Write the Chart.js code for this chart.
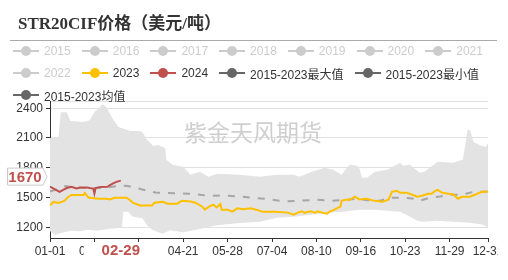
<!DOCTYPE html>
<html lang="zh">
<head>
<meta charset="UTF-8">
<title>STR20CIF价格</title>
<script src="https://cdn.jsdelivr.net/npm/chart.js@4.4.1/dist/chart.umd.min.js"></script>
<style>
  body { margin: 0; background: #fff; }
  .wrap { position: relative; width: 508px; height: 280px; overflow: hidden;
          font-family: "Liberation Sans", "Noto Sans CJK SC", sans-serif; }
  #c { position: absolute; left: 0; top: 0; }
  .title { position: absolute; left: 18px; top: 9px; color: #333; white-space: nowrap;
           font: bold 17px "Liberation Serif", "Noto Sans CJK SC", serif; }
  .rule { position: absolute; left: 10px; top: 40px; width: 487px; border-top: 1px solid #aaa; }
  .legend { position: absolute; left: 13px; top: 40px; width: 490px; }
  .row { display: flex; height: 22px; align-items: center; }
  .item { display: flex; align-items: center; margin-right: 11px; font-size: 12px; color: #333; white-space: nowrap; }
  .item.off { color: #ccc; }
  .icon { position: relative; width: 26px; height: 12px; margin-right: 5px; }
  .icon::before { content: ""; position: absolute; left: 0; right: 0; top: 5px; height: 2px; background: var(--c); }
  .icon::after { content: ""; position: absolute; left: 8px; top: 1px; width: 10px; height: 10px; border-radius: 50%; background: var(--c); }
</style>
</head>
<body>
<div class="wrap">
  <canvas id="c" width="498" height="280"></canvas>
  <div class="title">STR20CIF价格（美元/吨）</div>
  <div class="rule"></div>
  <div class="legend" id="legend"></div>
</div>
<script>
// x axis: day of year (2024), ticks every 37 days
const tickDays = [0, 37, 74, 111, 148, 185, 222, 259, 296, 333, 365];
const tickLabels = ['01-01', '02-07', '03-15', '04-21', '05-28', '07-04', '08-10', '09-16', '10-23', '11-29', '12-31'];
const yTicks = [1200, 1500, 1800, 2100, 2400];

// legend entries (2015-2022 are switched off in the original)
const legendNames = ['2015', '2016', '2017', '2018', '2019', '2020', '2021', '2022', '2023', '2024',
                     '2015-2023最大值', '2015-2023最小值', '2015-2023均值'];
const legendOn = [false, false, false, false, false, false, false, false, true, true, true, true, true];
const legendRows = [7, 5, 1];

// 2015-2023 max / min band
const maxDays = [0, 7, 9, 14, 17, 28, 33, 37, 42, 44, 47, 52, 57, 62, 67, 75, 77, 81, 86, 90,
                 96, 97, 102, 111, 117, 125, 132, 139, 158, 175, 189, 203, 208, 218, 229, 236, 243, 248, 250, 256,
                 258, 260, 264, 271, 281, 292, 294, 300, 308, 312, 323, 336, 344, 347, 348, 350, 353, 358, 363, 365];
const maxVals = [2100, 2110, 2360, 2360, 2270, 2260, 2280, 2360, 2420, 2440, 2410, 2300, 2210, 2190, 2170, 2170, 2160, 2080, 2020, 2030,
                 2000, 1880, 1830, 1810, 1730, 1760, 1710, 1740, 1730, 1710, 1730, 1730, 1710, 1760, 1800, 1780, 1730, 1810, 1830, 1820,
                 1790, 1700, 1700, 1760, 1780, 1850, 1820, 1830, 1750, 1760, 1860, 1850, 1880, 2100, 2180, 2180, 2060, 2030, 2010, 2050];
const minDays = [0, 4, 10, 17, 25, 31, 39, 50, 60, 61, 65, 69, 77, 81, 86, 94, 100, 111, 122, 139,
                 156, 175, 189, 203, 217, 231, 244, 258, 271, 281, 292, 300, 306, 311, 322, 336, 350, 361, 365];
const minVals = [1160, 1125, 1145, 1165, 1160, 1175, 1165, 1185, 1195, 1355, 1355, 1305, 1290, 1220, 1170, 1135, 1170, 1150, 1175, 1220,
                 1240, 1255, 1295, 1305, 1325, 1345, 1355, 1375, 1375, 1365, 1355, 1305, 1265, 1255, 1265, 1255, 1245, 1225, 1195];

// 2015-2023 average
const avgDays = [0, 5, 13, 20, 30, 40, 50, 60, 65, 72, 80, 88, 95, 110, 120, 133, 145, 158, 170, 180,
                 195, 208, 222, 235, 247, 257, 267, 275, 283, 295, 302, 308, 317, 325, 332, 343, 353, 360, 365];
const avgVals = [1560, 1580, 1615, 1600, 1595, 1595, 1605, 1620, 1615, 1595, 1570, 1550, 1545, 1540, 1535, 1515, 1520, 1510, 1495, 1487,
                 1460, 1467, 1477, 1467, 1477, 1487, 1467, 1467, 1497, 1497, 1490, 1467, 1500, 1510, 1527, 1527, 1557, 1557, 1560];

// 2023
const days2023 = [0, 3, 7, 12, 15, 18, 28, 29, 32, 40, 47, 50, 54, 64, 67, 69, 75, 85, 87, 94,
                  98, 106, 110, 117, 121, 127, 129, 133, 136, 139, 142, 143, 148, 152, 156, 161, 167, 172, 177, 187,
                  198, 203, 207, 210, 212, 217, 221, 223, 227, 231, 233, 237, 242, 243, 246, 250, 254, 258, 264, 269,
                  277, 282, 285, 289, 292, 297, 302, 306, 310, 315, 318, 321, 323, 327, 332, 336, 340, 343, 350, 354, 360, 365];
const vals2023 = [1420, 1455, 1445, 1465, 1505, 1525, 1525, 1545, 1500, 1487, 1487, 1480, 1497, 1497, 1470, 1447, 1420, 1420, 1447, 1457,
                  1437, 1437, 1467, 1460, 1447, 1407, 1377, 1410, 1427, 1400, 1435, 1377, 1377, 1357, 1390, 1380, 1390, 1377, 1357, 1355,
                  1347, 1327, 1350, 1360, 1345, 1360, 1347, 1360, 1345, 1337, 1357, 1377, 1407, 1467, 1477, 1477, 1507, 1480, 1487, 1470,
                  1457, 1477, 1557, 1567, 1547, 1547, 1527, 1507, 1517, 1537, 1537, 1567, 1577, 1547, 1537, 1530, 1487, 1507, 1507, 1527, 1557, 1557];

// 2024 (up to 02-29)
const days2024 = [0, 3, 8, 11, 14, 18, 22, 25, 31, 33, 36, 37, 38, 42, 48, 50, 53, 56, 59];
const vals2024 = [1610, 1590, 1557, 1577, 1595, 1607, 1590, 1600, 1600, 1595, 1590, 1540, 1595, 1605, 1607, 1625, 1645, 1660, 1670];

// highlighted pointer
const markDay = 59;
const markLabel = '02-29';
const markValue = 1670;

const RED = '#c0504d';
const YELLOW = '#ffc000';
const legendColors = ['#ccc', '#ccc', '#ccc', '#ccc', '#ccc', '#ccc', '#ccc', '#ccc', YELLOW, RED, '#666', '#666', '#666'];

function pts(xs, ys) {
    return xs.map((x, i) => ({ x: x, y: ys[i] }));
}

// html legend
const legendEl = document.getElementById('legend');
let k = 0;
legendRows.forEach(n => {
    const row = document.createElement('div');
    row.className = 'row';
    for (let j = 0; j < n; j++, k++) {
        const item = document.createElement('div');
        item.className = 'item' + (legendOn[k] ? '' : ' off');
        const icon = document.createElement('span');
        icon.className = 'icon';
        icon.style.setProperty('--c', legendColors[k]);
        item.appendChild(icon);
        item.appendChild(document.createTextNode(legendNames[k]));
        row.appendChild(item);
    }
    legendEl.appendChild(row);
});

const FONT = '"Liberation Sans", "Noto Sans CJK SC", sans-serif';
Chart.defaults.font.family = FONT;

const overlay = {
    id: 'overlay',
    beforeDatasetsDraw(chart) {
        const ctx = chart.ctx;
        ctx.save();
        ctx.font = '23px "Noto Sans CJK SC", sans-serif';
        ctx.fillStyle = '#cfcfcf';
        ctx.textAlign = 'center';
        ctx.textBaseline = 'middle';
        ctx.fillText('紫金天风期货', 253, 132);
        ctx.restore();
    },
    afterDraw(chart) {
        const ctx = chart.ctx;
        const xs = chart.scales.x, ys = chart.scales.y;
        ctx.save();
        // x pointer label
        const px = xs.getPixelForValue(markDay);
        const ly = chart.chartArea.bottom + 13;
        ctx.fillStyle = '#fff';
        ctx.fillRect(px - 37, ly - 9, 72, 19);
        ctx.fillStyle = RED;
        ctx.font = 'bold 15px ' + FONT;
        ctx.textAlign = 'center';
        ctx.textBaseline = 'middle';
        ctx.fillText(markLabel, px, ly);
        // y pointer label
        const py = ys.getPixelForValue(markValue) - 4;
        const r = chart.chartArea.left - 3;
        ctx.beginPath();
        ctx.moveTo(7.5, py - 8.5);
        ctx.lineTo(r - 4, py - 8.5);
        ctx.lineTo(r, py);
        ctx.lineTo(r - 4, py + 8.5);
        ctx.lineTo(7.5, py + 8.5);
        ctx.closePath();
        ctx.fillStyle = '#fff';
        ctx.fill();
        ctx.strokeStyle = '#ccc';
        ctx.lineWidth = 1;
        ctx.stroke();
        ctx.fillStyle = RED;
        ctx.fillText(String(markValue), (7 + r - 4) / 2, py + 1);
        ctx.restore();
    }
};

new Chart(document.getElementById('c'), {
    type: 'line',
    data: {
        datasets: [
            { label: '2024', data: pts(days2024, vals2024), borderColor: RED, borderWidth: 2 },
            { label: '2023', data: pts(days2023, vals2023), borderColor: YELLOW, borderWidth: 2 },
            { label: '2015-2023均值', data: pts(avgDays, avgVals), borderColor: '#a6a6a6', borderWidth: 2, borderDash: [7, 8] },
            { label: '2015-2023最大值', data: pts(maxDays, maxVals), borderWidth: 0, borderColor: 'rgba(0,0,0,0)',
              backgroundColor: '#e3e3e3', fill: 4 },
            { label: '2015-2023最小值', data: pts(minDays, minVals), borderWidth: 0, borderColor: 'rgba(0,0,0,0)' }
        ]
    },
    options: {
        responsive: false,
        animation: false,
        layout: { padding: { top: 101, right: 10, left: 0, bottom: 0 } },
        elements: { point: { radius: 0 }, line: { tension: 0 } },
        plugins: { legend: { display: false }, tooltip: { enabled: false } },
        scales: {
            x: {
                type: 'linear', min: 0, max: 365,
                afterBuildTicks: s => { s.ticks = tickDays.map(v => ({ value: v })); },
                afterFit: s => { s.height = 42; s.paddingLeft = 0; s.paddingRight = 0; },
                ticks: { autoSkip: false, maxRotation: 0, padding: 2, color: '#333', font: { size: 12 },
                         callback: (v, i) => tickLabels[i] },
                grid: { drawOnChartArea: false, drawTicks: true, tickLength: 4, tickColor: '#333' },
                border: { color: '#333' }
            },
            y: {
                min: 1091, max: 2473,
                afterBuildTicks: s => { s.ticks = yTicks.concat([2473]).map(v => ({ value: v })); },
                afterFit: s => { s.width = 50; s.paddingTop = 0; s.paddingBottom = 0; },
                ticks: { padding: 3, color: '#333', font: { size: 12 },
                         callback: v => yTicks.includes(v) ? String(v) : '' },
                grid: { color: '#e0e0e0', tickLength: 4,
                        tickColor: c => (c.tick && yTicks.includes(c.tick.value)) ? '#333' : 'rgba(0,0,0,0)' },
                border: { color: '#333' }
            }
        }
    },
    plugins: [overlay]
});
</script>
</body>
</html>
